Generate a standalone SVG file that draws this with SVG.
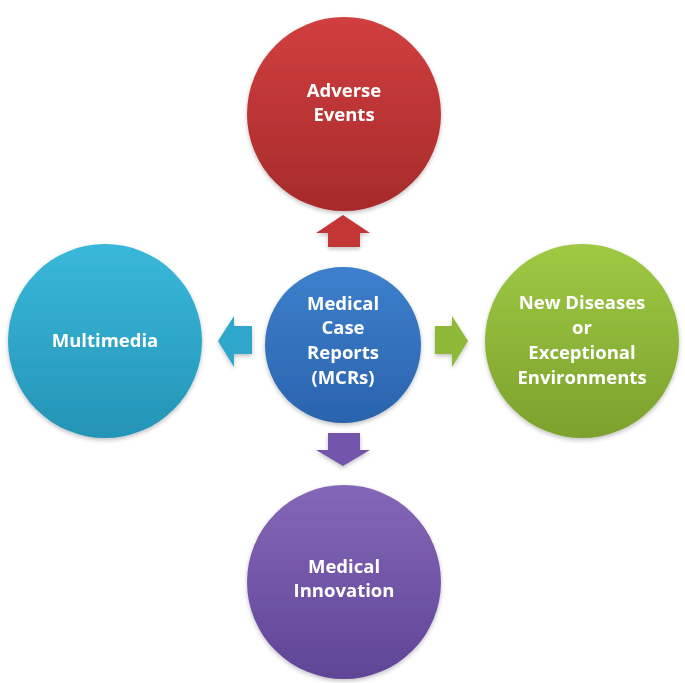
<svg xmlns="http://www.w3.org/2000/svg" width="685" height="683" viewBox="0 0 685 683">
<defs>
<linearGradient id="gRed" x1="0" y1="0" x2="0" y2="1"><stop offset="0" stop-color="#d13f3f"/><stop offset="1" stop-color="#a62a2b"/></linearGradient>
<linearGradient id="gBlue" x1="0" y1="0" x2="0" y2="1"><stop offset="0" stop-color="#3d80cc"/><stop offset="1" stop-color="#2a63ad"/></linearGradient>
<linearGradient id="gCyan" x1="0" y1="0" x2="0" y2="1"><stop offset="0" stop-color="#39b8da"/><stop offset="1" stop-color="#2494b6"/></linearGradient>
<linearGradient id="gGreen" x1="0" y1="0" x2="0" y2="1"><stop offset="0" stop-color="#9fc943"/><stop offset="1" stop-color="#7ca12d"/></linearGradient>
<linearGradient id="gPurple" x1="0" y1="0" x2="0" y2="1"><stop offset="0" stop-color="#8467b8"/><stop offset="1" stop-color="#5f4596"/></linearGradient>
<filter id="sh" x="-20%" y="-20%" width="140%" height="140%"><feDropShadow dx="0" dy="2" stdDeviation="2" flood-color="#000" flood-opacity="0.25"/></filter>
</defs>
<style>
text{font-family:"Open Sans","Liberation Sans",sans-serif;font-weight:700;font-size:18.5px;fill:#fff;text-anchor:middle}
.c{filter:url(#sh)}
</style>
<g id="connectors" class="c">
<polygon points="343,215 370,233 360,233 360,247 328,247 328,233 316,233" fill="#c43536"/>
<polygon points="468,341 452,316 452,326 435,326 435,354 452,354 452,367" fill="#8db838"/>
<polygon points="218,341 234,316 234,326 252,326 252,354 234,354 234,367" fill="#2ea7cb"/>
<polygon points="343,466 370,450 360,450 360,433 328,433 328,450 316,450" fill="#7356ab"/>
</g>
<g id="adverse" class="c">
<circle cx="344" cy="114" r="97" fill="url(#gRed)"/>
<text x="344" y="97">Adverse</text>
<text x="344" y="121">Events</text>
</g>
<g id="multimedia" class="c">
<circle cx="105" cy="341" r="97" fill="url(#gCyan)"/>
<text x="105" y="347">Multimedia</text>
</g>
<g id="mcr" class="c">
<circle cx="343" cy="345" r="78" fill="url(#gBlue)"/>
<text x="343" y="310">Medical</text>
<text x="343" y="334">Case</text>
<text x="343" y="359">Reports</text>
<text x="343" y="384">(MCRs)</text>
</g>
<g id="newdiseases" class="c">
<circle cx="582" cy="341" r="97" fill="url(#gGreen)"/>
<text x="582" y="309">New Diseases</text>
<text x="582" y="334">or</text>
<text x="582" y="359">Exceptional</text>
<text x="582" y="384">Environments</text>
</g>
<g id="innovation" class="c">
<circle cx="344" cy="582" r="97" fill="url(#gPurple)"/>
<text x="344" y="573">Medical</text>
<text x="344" y="597">Innovation</text>
</g>
</svg>
